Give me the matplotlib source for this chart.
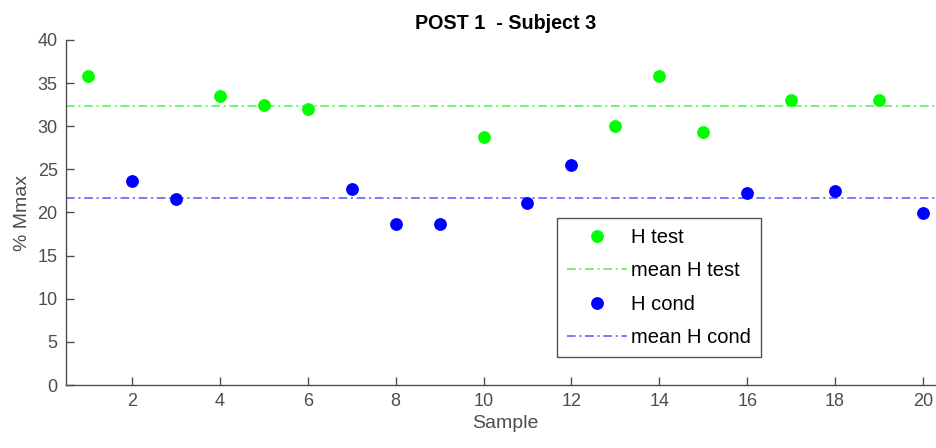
import matplotlib.pyplot as plt
import numpy as np

plt.rcParams['font.family'] = ['Liberation Sans', 'DejaVu Sans']

# data
test_x = [1, 4, 5, 6, 10, 13, 14, 15, 17, 19]
test_y = [35.8, 33.5, 32.5, 32.0, 28.7, 30.0, 35.8, 29.3, 33.1, 33.1]
cond_x = [2, 3, 7, 8, 9, 11, 12, 16, 18, 20]
cond_y = [23.6, 21.6, 22.7, 18.7, 18.7, 21.1, 25.5, 22.3, 22.5, 19.9]

axcol = '#4d4d4d'
dashdot = (0, (5.2, 2.2, 1.3, 2.2))

fig = plt.figure(figsize=(9.37, 4.48), dpi=100)
ax = fig.add_axes([66 / 937, 63 / 448, 879 / 937, 345 / 448])

ax.axhline(np.mean(test_y), color='#5cf25c', ls=dashdot, lw=1.2)
ax.axhline(np.mean(cond_y), color='#6464ff', ls=dashdot, lw=1.2)

h1, = ax.plot(test_x, test_y, 'o', color='#00ff00', ms=8.2, label='H test')
h2, = ax.plot([], [], ls=dashdot, color='#5cf25c', lw=1.2, label='mean H test')
h3, = ax.plot(cond_x, cond_y, 'o', color='#0000ff', ms=8.2, label='H cond')
h4, = ax.plot([], [], ls=dashdot, color='#6464ff', lw=1.2, label='mean H cond')

ax.set_xlim(0.5, 20.5)
ax.set_ylim(0, 40)
ax.set_xticks(np.arange(2, 21, 2))
ax.set_yticks(np.arange(0, 41, 5))

for s in ['top', 'right']:
    ax.spines[s].set_visible(False)
for s in ['left', 'bottom']:
    ax.spines[s].set_color(axcol)
    ax.spines[s].set_linewidth(1.0)
ax.tick_params(direction='in', length=6, width=1, colors=axcol,
               labelsize=13, pad=6)

ax.set_title('POST 1  - Subject 3', fontsize=14.2, fontweight='bold', pad=8)
ax.set_xlabel('Sample', fontsize=14, color=axcol, labelpad=3)
ax.set_ylabel('% Mmax', fontsize=14, color=axcol, labelpad=5)

leg = ax.legend(handles=[h1, h2, h3, h4], loc='lower left',
                bbox_to_anchor=(0.5585, 0.08), fontsize=14.5,
                frameon=True, fancybox=False, handlelength=3.0,
                handletextpad=0.2, labelspacing=0.72, borderpad=0.5,
                borderaxespad=0, numpoints=1)
leg.get_frame().set_edgecolor('#262626')
leg.get_frame().set_linewidth(1.0)

plt.savefig('out.png', dpi=100)
